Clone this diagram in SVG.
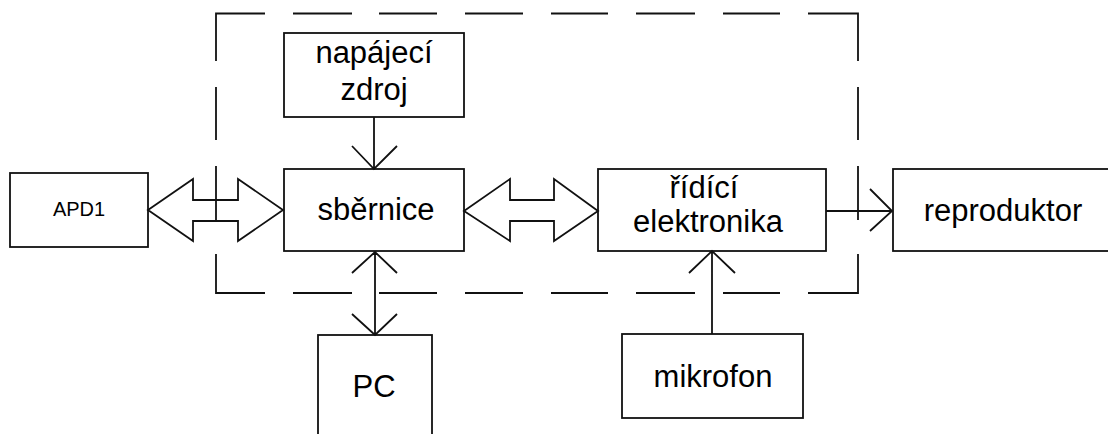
<svg xmlns="http://www.w3.org/2000/svg" width="1108" height="434" viewBox="0 0 1108 434">
<style>
.box{fill:#fff;stroke:#111;stroke-width:1.8}
.ln{fill:none;stroke:#111;stroke-width:1.8;stroke-linejoin:miter}
.t{font-family:"Liberation Sans",Arial,sans-serif;font-size:31px;fill:#000;text-anchor:middle}
.s{font-size:20px}
</style>
<rect width="1108" height="434" fill="#fff"/>
<g id="apd1"><rect class="box" x="10" y="173" width="138" height="74"/><text class="t s" x="79" y="216">APD1</text></g>
<g id="napajeci-zdroj"><rect class="box" x="284" y="33" width="180" height="84"/><text class="t" x="374" y="63">napájecí</text><text class="t" x="374" y="100">zdroj</text></g>
<g id="sbernice"><rect class="box" x="284" y="169" width="180" height="82"/><text class="t" x="376" y="220">sběrnice</text></g>
<g id="ridici-elektronika"><rect class="box" x="598" y="169" width="228" height="82"/><text class="t" x="704" y="198">řídící</text><text class="t" x="708" y="232">elektronika</text></g>
<g id="reproduktor"><rect class="box" x="893" y="169" width="225" height="82"/><text class="t" x="1003" y="221">reproduktor</text></g>
<g id="pc"><rect class="box" x="318" y="335" width="114" height="110"/><text class="t" x="374" y="397">PC</text></g>
<g id="mikrofon"><rect class="box" x="622" y="334" width="181" height="84"/><text class="t" x="713" y="387">mikrofon</text></g>
<g id="connectors">
<polygon class="ln" points="148,210 193,179 193,200 238,200 238,179 283,210 238,241 238,221 193,221 193,241"/>
<polygon class="ln" points="464,211 510,179 510,200 554,200 554,179 598,211 554,241 554,221 510,221 510,241"/>
<path class="ln" d="M374,117V169M352,146L374,169L397,146"/>
<path class="ln" d="M375,252V335M352,273L375,252L397,273M352,314L375,335L397,314"/>
<path class="ln" d="M712,334V251M689,273L712,251L735,273"/>
<path class="ln" d="M826,211H892M870,189L892,211L870,231"/>
</g>
<g id="boundary" class="ln">
<path d="M216,61V13.5H265M293,13.5H352M379,13.5H437M465,13.5H523M551,13.5H608M636,13.5H695M723,13.5H780M808,13.5H858V61"/>
<path d="M216,254V293H265M293,293H352M379,293H437M465,293H523M551,293H608M636,293H695M723,293H780M808,293H858V254"/>
<path d="M216,87V140M216,166V220M858,87V140M858,166V220"/>
</g>
</svg>
